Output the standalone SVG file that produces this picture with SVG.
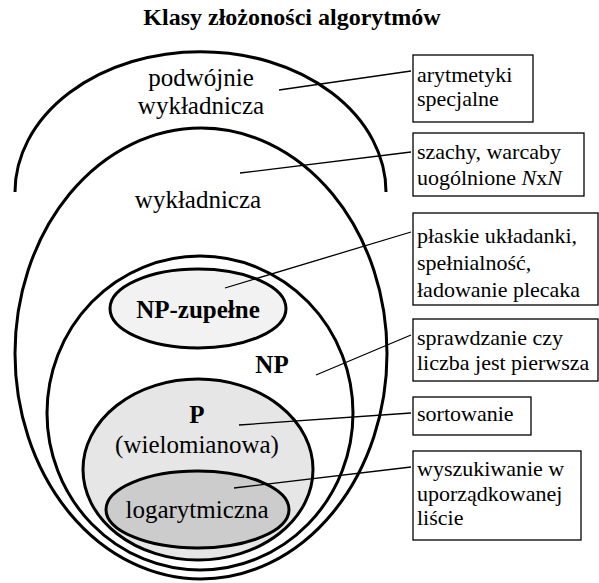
<svg xmlns="http://www.w3.org/2000/svg" width="599" height="583" viewBox="0 0 599 583" font-family="Liberation Serif, Times New Roman, serif">
<style>
.sh{stroke:#000;stroke-width:3}
.lbl{font-size:25px;fill:#000;text-anchor:middle}
.b{font-weight:bold}
.box{fill:#fff;stroke:#000;stroke-width:1.3}
.bt{font-size:22px;fill:#000}
.con line{stroke:#000;stroke-width:1.3}
</style>
<rect width="599" height="583" fill="#fff"/>
<text x="292" y="25" font-size="24" font-weight="bold" text-anchor="middle">Klasy złożoności algorytmów</text>
<g id="podwojnie">
<path class="sh" d="M 15 192 A 185.5 140.3 0 0 1 386 192" fill="none"/>
<text class="lbl" x="201" y="86">podwójnie</text>
<text class="lbl" x="201" y="114">wykładnicza</text>
</g>
<g id="wykladnicza">
<ellipse class="sh" cx="201" cy="353.5" rx="186" ry="225.5" fill="#fff"/>
<text class="lbl" x="198" y="208">wykładnicza</text>
</g>
<g id="np">
<ellipse class="sh" cx="200" cy="413" rx="153" ry="157" fill="#fff"/>
<text class="lbl b" x="272" y="373">NP</text>
</g>
<g id="npzupelne">
<ellipse class="sh" cx="198" cy="308.5" rx="88" ry="39.5" fill="#f2f2f2"/>
<text class="lbl b" x="198" y="318">NP-zupełne</text>
</g>
<g id="p">
<ellipse class="sh" cx="198" cy="469.5" rx="115" ry="90.5" fill="#e6e6e6"/>
<text class="lbl b" x="197" y="423">P</text>
<text class="lbl" x="197" y="453">(wielomianowa)</text>
</g>
<g id="logarytmiczna">
<ellipse class="sh" cx="197.5" cy="509.5" rx="91.5" ry="38.5" fill="#cccccc"/>
<text class="lbl" x="197" y="518">logarytmiczna</text>
</g>
<g class="con" id="connectors">
<line x1="279" y1="90" x2="411" y2="71"/>
<line x1="240" y1="173" x2="411" y2="152"/>
<line x1="225" y1="288" x2="411" y2="232"/>
<line x1="316" y1="375" x2="411" y2="335"/>
<line x1="239" y1="425" x2="411" y2="413"/>
<line x1="234" y1="488" x2="411" y2="467"/>
</g>
<g id="box1">
<rect class="box" x="413" y="55" width="120" height="67"/>
<text class="bt" x="417" y="82">arytmetyki</text>
<text class="bt" x="417" y="106">specjalne</text>
</g>
<g id="box2">
<rect class="box" x="413" y="133" width="171" height="63"/>
<text class="bt" x="417" y="159">szachy, warcaby</text>
<text class="bt" x="417" y="185">uogólnione <tspan font-style="italic">N</tspan>x<tspan font-style="italic">N</tspan></text>
</g>
<g id="box3">
<rect class="box" x="413" y="213" width="185" height="92"/>
<text class="bt" x="417" y="243">płaskie układanki,</text>
<text class="bt" x="417" y="270">spełnialność,</text>
<text class="bt" x="417" y="297">ładowanie plecaka</text>
</g>
<g id="box4">
<rect class="box" x="413" y="319" width="185" height="62"/>
<text class="bt" x="417" y="345">sprawdzanie czy</text>
<text class="bt" x="417" y="370">liczba jest pierwsza</text>
</g>
<g id="box5">
<rect class="box" x="413" y="397" width="118" height="38"/>
<text class="bt" x="417" y="421">sortowanie</text>
</g>
<g id="box6">
<rect class="box" x="413" y="451" width="168" height="89"/>
<text class="bt" x="417" y="476">wyszukiwanie w</text>
<text class="bt" x="417" y="501">uporządkowanej</text>
<text class="bt" x="417" y="525">liście</text>
</g>
</svg>
